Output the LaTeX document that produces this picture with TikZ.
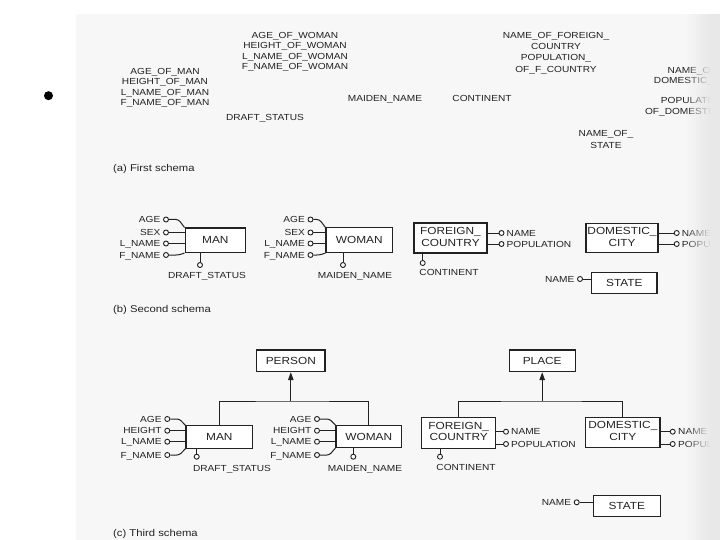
\documentclass[tikz,border=0pt]{standalone}
\usepackage{fontspec}
\setmainfont{Liberation Sans}
\usepackage{graphicx}
\usetikzlibrary{calc,arrows.meta}
\definecolor{ink}{HTML}{222222}
\newcommand{\Wx}[1]{\scalebox{1.15}[1]{#1}}
\newcommand{\lblf}{\fontsize{8.8}{10}\selectfont}
\newcommand{\entf}{\fontsize{10.3}{11.7}\selectfont}
\newcommand{\capf}{\fontsize{9.8}{11}\selectfont}
\newcommand{\TwoL}[2]{\Wx{\begin{tabular}{@{}c@{}}#1\\#2\end{tabular}}}
\tikzset{
  txt/.style={inner sep=0pt, text=ink, font=\lblf, text height=6.3pt, text depth=0pt},
  ent/.style={draw=ink, line width=1.1pt, fill=white, inner sep=0pt, text=ink, font=\entf, align=center},
  att/.style={circle, draw=ink, line width=0.9pt, fill=white, minimum size=5pt, inner sep=0pt},
  conn/.style={draw=ink, line width=1pt},
  capt/.style={inner sep=0pt, anchor=west, text=ink, font=\capf, text height=6.9pt, text depth=2pt},
  gen/.style={conn, -{Triangle[length=8pt,width=5.5pt]}}
}
\begin{document}
\begin{tikzpicture}[x=1pt,y=-1pt]
\useasboundingbox (0,0) rectangle (720,540);
\fill[black!3] (76,14.5) rectangle (720,540);
\node[circle, fill=black, minimum size=9pt, inner sep=0pt] (bullet) at (48.5,95.7) {};

% ---------------- (a) First schema
\foreach \n/\t/\y in {1/AGE\_OF\_MAN/71, 2/HEIGHT\_OF\_MAN/81.5, 3/L\_NAME\_OF\_MAN/92, 4/F\_NAME\_OF\_MAN/102.5}
  \node[txt] (am\n) at (165,\y) {\Wx{\t}};
\foreach \n/\t/\y in {1/AGE\_OF\_WOMAN/35, 2/HEIGHT\_OF\_WOMAN/45.5, 3/L\_NAME\_OF\_WOMAN/56, 4/F\_NAME\_OF\_WOMAN/66.5}
  \node[txt] (aw\n) at (295,\y) {\Wx{\t}};
\node[txt] (ads) at (265,117) {\Wx{DRAFT\_STATUS}};
\node[txt] (amn) at (385,98) {\Wx{MAIDEN\_NAME}};
\node[txt] (acont) at (482,98) {\Wx{CONTINENT}};
\foreach \n/\t/\y in {1/NAME\_OF\_FOREIGN\_/35, 2/COUNTRY/46, 3/POPULATION\_/57, 4/OF\_F\_COUNTRY/69.5}
  \node[txt] (af\n) at (556,\y) {\Wx{\t}};
\node[txt] (as1) at (606,133) {\Wx{NAME\_OF\_}};
\node[txt] (as2) at (606,145) {\Wx{STATE}};
\node[txt] (ad1) at (695,70) {\Wx{NAME\_OF\_}};
\node[txt] (ad2) at (695,80.5) {\Wx{DOMESTIC\_CITY}};
\node[txt] (ad3) at (696,100) {\Wx{POPULATION\_}};
\node[txt] (ad4) at (696,111) {\Wx{OF\_DOMESTIC\_CITY}};
\node[capt] (capa) at (113,169) {\Wx{(a) First schema}};

% ---------------- (b) Second schema
\node[ent, minimum width=60.5, minimum height=24.5] (bman) at (215.3,240.3) {\Wx{MAN}};
\node[ent, minimum width=66.7, minimum height=24.7] (bwoman) at (359.3,240.3) {\Wx{WOMAN}};
\node[ent, minimum width=73, minimum height=30] (bfc) at (450.5,238) {\TwoL{FOREIGN\_}{COUNTRY}};
\node[ent, minimum width=72, minimum height=28.7] (bdc) at (622,238.3) {\TwoL{DOMESTIC\_}{CITY}};
\node[ent, minimum width=65.3, minimum height=20.6] (bst) at (624.3,283) {\Wx{STATE}};

\foreach \n/\t/\y in {1/AGE/219.5, 2/SEX/232.5, 3/L\_NAME/243.5, 4/F\_NAME/255}{
  \node[att] (bma\n) at (166,\y) {};
  \node[txt, anchor=east] (bma\n t) at (160.5,\y) {\Wx{\t}};
  \node[att] (bwa\n) at (310.5,\y) {};
  \node[txt, anchor=east] (bwa\n t) at (305,\y) {\Wx{\t}};
}
\foreach \e/\p in {bman/bma, bwoman/bwa}{
  \draw[conn, rounded corners=2.5] (\p1.east) -- ($(\p1.east -| \e.west)+(-6,0)$) -- (\e.north west);
  \draw[conn] (\p2.east) -- (\p2.east -| \e.west);
  \draw[conn] (\p3.east) -- (\p3.east -| \e.west);
  \draw[conn, rounded corners=2.5] (\p4.east) -- ($(\p4.east -| \e.west)+(-6,0)$) -- (\e.south west);
}
\node[att] (bds) at (200,265) {};
\draw[conn] (bds.north) -- (bds.north |- bman.south);
\node[txt] (bdst) at (207,275) {\Wx{DRAFT\_STATUS}};
\node[att] (bmn) at (343,265) {};
\draw[conn] (bmn.north) -- (bmn.north |- bwoman.south);
\node[txt] (bmnt) at (355,275) {\Wx{MAIDEN\_NAME}};

\node[att] (bfc1) at (501.5,233) {};
\node[att] (bfc2) at (501.5,244) {};
\draw[conn] (bfc1.west) -- (bfc1.west -| bfc.east);
\draw[conn] (bfc2.west) -- (bfc2.west -| bfc.east);
\node[txt, anchor=west] (bfc1t) at (506.5,233) {\Wx{NAME}};
\node[txt, anchor=west] (bfc2t) at (506.5,244) {\Wx{POPULATION}};
\node[att] (bcont) at (422.7,263) {};
\draw[conn] (bcont.north) -- (bcont.north |- bfc.south);
\node[txt] (bcontt) at (449,272.5) {\Wx{CONTINENT}};

\node[att] (bdc1) at (676.7,233) {};
\node[att] (bdc2) at (676.7,244) {};
\draw[conn] (bdc1.west) -- (bdc1.west -| bdc.east);
\draw[conn] (bdc2.west) -- (bdc2.west -| bdc.east);
\node[txt, anchor=west] (bdc1t) at (681.7,233) {\Wx{NAME}};
\node[txt, anchor=west] (bdc2t) at (681.7,244) {\Wx{POPULATION}};

\node[att] (bsn) at (580,279) {};
\draw[conn] (bsn.east) -- (bsn.east -| bst.west);
\node[txt, anchor=east] (bsnt) at (574.5,279) {\Wx{NAME}};
\node[capt] (capb) at (113,310) {\Wx{(b) Second schema}};

% ---------------- (c) Third schema
\node[ent, minimum width=68.3, minimum height=21.7] (person) at (290.8,360.8) {\Wx{PERSON}};
\node[ent, minimum width=65.7, minimum height=21.7] (place) at (542.2,360.8) {\Wx{PLACE}};
\node[ent, minimum width=66.7, minimum height=22.3] (cman) at (219.3,437) {\Wx{MAN}};
\node[ent, minimum width=65.7, minimum height=22] (cwoman) at (368.8,436.5) {\Wx{WOMAN}};
\node[ent, minimum width=74, minimum height=31] (cfc) at (458.7,432.8) {\TwoL{FOREIGN\_}{COUNTRY}};
\node[ent, minimum width=74.3, minimum height=30.4] (cdc) at (622.8,432.5) {\TwoL{DOMESTIC\_}{CITY}};
\node[ent, minimum width=66.7, minimum height=21] (cst) at (626.7,506.2) {\Wx{STATE}};

\coordinate (j1) at (290.8,401);
\draw[conn] (cman.north) |- (j1) -| (cwoman.north);
\draw[gen] (j1) -- (person.south);
\coordinate (j2) at (542.2,401);
\draw[conn] (cfc.north) |- (j2) -| (cdc.north);
\draw[gen] (j2) -- (place.south);

\foreach \n/\t/\y in {1/AGE/419, 2/HEIGHT/430.7, 3/L\_NAME/441.7, 4/F\_NAME/455}{
  \node[att] (cma\n) at (167.3,\y) {};
  \node[txt, anchor=east] (cma\n t) at (161.8,\y) {\Wx{\t}};
  \node[att] (cwa\n) at (317,\y) {};
  \node[txt, anchor=east] (cwa\n t) at (311.5,\y) {\Wx{\t}};
}
\foreach \e/\p in {cman/cma, cwoman/cwa}{
  \draw[conn, rounded corners=2.5] (\p1.east) -- ($(\p1.east -| \e.west)+(-6,0)$) -- (\e.north west);
  \draw[conn] (\p2.east) -- (\p2.east -| \e.west);
  \draw[conn] (\p3.east) -- (\p3.east -| \e.west);
  \draw[conn, rounded corners=2.5] (\p4.east) -- ($(\p4.east -| \e.west)+(-6,0)$) -- (\e.south west);
}
\node[att] (cds) at (196.7,456.7) {};
\draw[conn] (cds.north) -- (cds.north |- cman.south);
\node[txt] (cdst) at (232,468) {\Wx{DRAFT\_STATUS}};
\node[att] (cmn) at (353.3,456.7) {};
\draw[conn] (cmn.north) -- (cmn.north |- cwoman.south);
\node[txt] (cmnt) at (365,468) {\Wx{MAIDEN\_NAME}};

\node[att] (cfc1) at (506,431.7) {};
\node[att] (cfc2) at (506,444) {};
\draw[conn] (cfc1.west) -- (cfc1.west -| cfc.east);
\draw[conn] (cfc2.west) -- (cfc2.west -| cfc.east);
\node[txt, anchor=west] (cfc1t) at (511,431.7) {\Wx{NAME}};
\node[txt, anchor=west] (cfc2t) at (511,444) {\Wx{POPULATION}};
\node[att] (ccont) at (440,456.7) {};
\draw[conn] (ccont.north) -- (ccont.north |- cfc.south);
\node[txt] (ccontt) at (466,467.7) {\Wx{CONTINENT}};

\node[att] (cdc1) at (672.7,431.7) {};
\node[att] (cdc2) at (672.7,444) {};
\draw[conn] (cdc1.west) -- (cdc1.west -| cdc.east);
\draw[conn] (cdc2.west) -- (cdc2.west -| cdc.east);
\node[txt, anchor=west] (cdc1t) at (678,431.7) {\Wx{NAME}};
\node[txt, anchor=west] (cdc2t) at (678,444) {\Wx{POPULATION}};

\node[att] (csn) at (576.7,502.3) {};
\draw[conn] (csn.east) -- (csn.east -| cst.west);
\node[txt, anchor=east] (csnt) at (571.2,502.3) {\Wx{NAME}};
\node[capt] (capc) at (113,534.5) {\Wx{(c) Third schema}};

% ---------------- faded right edge of the scan
\foreach \i in {0,...,13}
  \fill[black!9, opacity=\i/13] (684+\i*2,14.5) rectangle (686.2+\i*2,540);
\fill[black!9] (712,14.5) rectangle (720,540);
\end{tikzpicture}
\end{document}
